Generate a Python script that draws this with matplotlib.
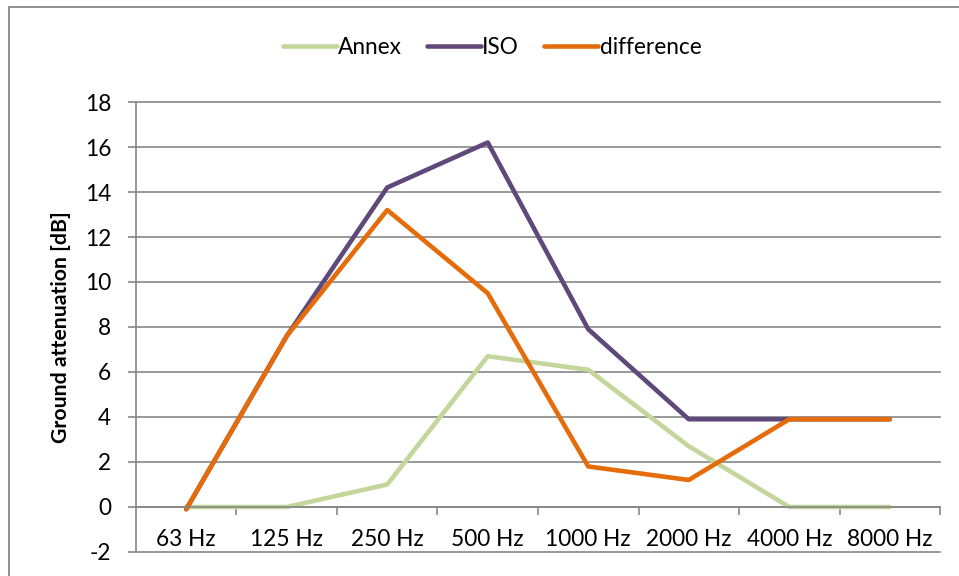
import matplotlib
matplotlib.use("Agg")
import matplotlib.pyplot as plt
from matplotlib.patches import Rectangle

plt.rcParams['font.family'] = ['Lato', 'DejaVu Sans']
plt.rcParams['axes.unicode_minus'] = False

bands = ["63 Hz", "125 Hz", "250 Hz", "500 Hz", "1000 Hz", "2000 Hz", "4000 Hz", "8000 Hz"]
annex = [0, 0, 1.0, 6.7, 6.1, 2.7, 0, 0]
iso = [-0.1, 7.6, 14.2, 16.2, 7.9, 3.9, 3.9, 3.9]
difference = [-0.1, 7.6, 13.2, 9.5, 1.8, 1.2, 3.9, 3.9]

grid_col = "#878787"
fs = 16.3

fig = plt.figure(figsize=(9.59, 5.76), dpi=100)
ax = fig.add_axes([0.1418, 0.0417, 0.8384, 0.7812])

x = list(range(len(bands)))
ax.plot(x, annex, color="#C3D69B", lw=3.3, solid_capstyle='round', label="Annex")
ax.plot(x, iso, color="#5F497A", lw=3.3, solid_capstyle='round', label="ISO")
ax.plot(x, difference, color="#E46C0A", lw=3.3, solid_capstyle='round', label="difference")

ax.set_xlim(-0.5, len(bands) - 0.5)
ax.set_ylim(-2, 18)
ax.set_yticks(range(-2, 19, 2))
ax.tick_params(axis='y', length=6, width=1.2, color=grid_col, pad=12, labelsize=fs)

# category axis crosses at 0, ticks between categories
ax.spines['bottom'].set_position(('data', 0))
ax.spines['bottom'].set_color(grid_col)
ax.spines['bottom'].set_linewidth(1.2)
ax.set_xticks(x)
ax.set_xticklabels(bands)
ax.set_xticks([i + 0.5 for i in x], minor=True)
ax.tick_params(axis='x', which='major', length=0, pad=16, labelsize=fs)
ax.tick_params(axis='x', which='minor', length=6, width=1.2, color=grid_col)

ax.spines['left'].set_color(grid_col)
ax.spines['left'].set_linewidth(1.2)
ax.spines['top'].set_visible(False)
ax.spines['right'].set_visible(False)

ax.yaxis.grid(True, color=grid_col, lw=1.2)
ax.set_axisbelow(True)
for gl in ax.get_ygridlines():
    gl.set_clip_on(False)

ax.set_ylabel("Ground attenuation [dB]", fontsize=15.3, fontweight='bold')
ax.yaxis.set_label_coords(-0.081, 0.5)

fig.legend(loc='center', bbox_to_anchor=(0.513, 0.918), ncol=3, frameon=False,
           fontsize=fs, handlelength=2.4, handletextpad=0.05, columnspacing=1.1)

# outer chart frame
fig.patches.append(Rectangle((9 / 959, -0.1), 1.2, 1.1 - 7 / 576,
                             transform=fig.transFigure, fill=False,
                             edgecolor=grid_col, lw=1.3))

fig.savefig("out.png", dpi=100)
